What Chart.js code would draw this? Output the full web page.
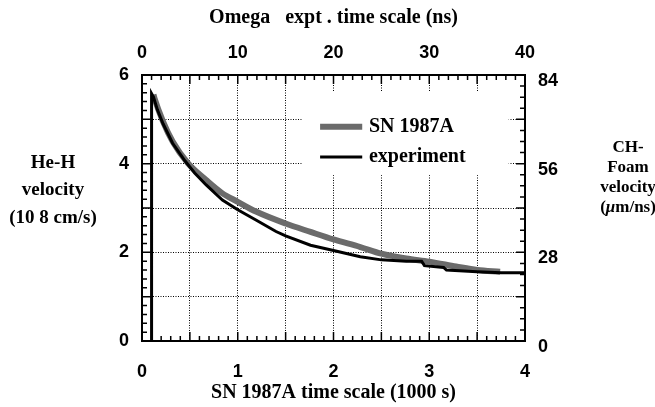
<!DOCTYPE html>
<html>
<head>
<meta charset="utf-8">
<script src="https://cdn.jsdelivr.net/npm/chart.js@4.4.1/dist/chart.umd.min.js"></script>
<style>
  html, body { margin: 0; padding: 0; background: #fff; }
</style>
</head>
<body>
<canvas id="chart" width="655" height="407"></canvas>
<script>
// experiment (black) - x in 1000 s, y in 10^8 cm/s
const expX = [0.10, 0.10, 0.12, 0.16, 0.22, 0.32, 0.45, 0.55, 0.67, 0.84, 1.00, 1.19, 1.40, 1.50, 1.76, 2.00, 2.28, 2.50, 2.76, 2.92, 2.95, 3.15, 3.18, 3.50, 3.75, 4.00];
const expY = [0.00, 5.58, 5.50, 5.22, 4.90, 4.46, 4.06, 3.79, 3.52, 3.18, 2.96, 2.73, 2.47, 2.37, 2.16, 2.04, 1.90, 1.83, 1.80, 1.80, 1.70, 1.66, 1.60, 1.56, 1.54, 1.54];

// SN 1987A (gray)
const snX = [0.12, 0.13, 0.22, 0.32, 0.48, 0.67, 0.84, 1.00, 1.19, 1.50, 1.76, 2.00, 2.28, 2.50, 2.76, 3.00, 3.28, 3.50, 3.74];
const snY = [5.56, 5.48, 4.95, 4.50, 4.01, 3.63, 3.33, 3.14, 2.92, 2.65, 2.46, 2.29, 2.12, 1.97, 1.86, 1.79, 1.68, 1.60, 1.56];

const bottomTicks = [0, 1, 2, 3, 4];
const topTicks = [0, 10, 20, 30, 40];
const leftTicks = [0, 2, 4, 6];
const rightTicks = [0, 28, 56, 84];
const xGrid = [0, 0.5, 1, 1.5, 2, 2.5, 3, 3.5, 4];
const yGrid = [0, 1, 2, 3, 4, 5, 6];

const topTitle = 'Omega   expt . time scale (ns)';
const bottomTitle = 'SN 1987A time scale (1000 s)';
const leftTitle = ['He-H', 'velocity', '(10 8 cm/s)'];
const rightTitle = ['CH-', 'Foam', 'velocity', '(μm/ns)'];

const SANS = '"Liberation Sans", Arial, sans-serif';
const SERIF = '"Liberation Serif", "Times New Roman", serif';

// ticks pointing into the plot, every scale
const innerTicks = {
    id: 'innerTicks',
    afterDatasetsDraw(chart) {
        const ctx = chart.ctx;
        const a = chart.chartArea;
        const s = chart.scales;
        ctx.save();
        ctx.strokeStyle = '#000';
        ctx.lineWidth = 1.5;
        ctx.beginPath();
        for (let i = 0; i <= 40; i++) {
            const len = i % 5 === 0 ? 9 : 5;
            const xb = s.x.getPixelForValue(i / 10);
            ctx.moveTo(xb, a.bottom); ctx.lineTo(xb, a.bottom - len);
            const xt = s.x2.getPixelForValue(i);
            ctx.moveTo(xt, a.top); ctx.lineTo(xt, a.top + len);
        }
        for (let i = 0; i <= 30; i++) {
            const len = i % 5 === 0 ? 9 : 5;
            const y = s.y.getPixelForValue(i / 5);
            ctx.moveTo(a.left, y); ctx.lineTo(a.left + len, y);
        }
        for (let i = 0; i <= 24; i++) {
            const len = i % 4 === 0 ? 9 : 5;
            const y = s.y2.getPixelForValue(i * 3.5);
            ctx.moveTo(a.right, y); ctx.lineTo(a.right - len, y);
        }
        ctx.stroke();
        ctx.restore();
    }
};

// legend sits inside the plot on a white box that hides the grid
const boxLegend = {
    id: 'boxLegend',
    beforeDatasetsDraw(chart) {
        const {x, y} = chart.scales;
        const ctx = chart.ctx;
        const x1 = x.getPixelForValue(1.67), x2 = x.getPixelForValue(3.83);
        const y1 = y.getPixelForValue(5.62), y2 = y.getPixelForValue(3.74);
        ctx.save();
        ctx.fillStyle = '#fff';
        ctx.fillRect(x1, y1, x2 - x1, y2 - y1);
        ctx.restore();
    },
    afterDatasetsDraw(chart) {
        const {x, y} = chart.scales;
        const ctx = chart.ctx;
        const rows = [chart.data.datasets[1], chart.data.datasets[0]];
        const rowY = [4.83, 4.15];
        ctx.save();
        ctx.font = 'bold 20px ' + SERIF;
        ctx.textBaseline = 'middle';
        ctx.fillStyle = '#000';
        rows.forEach((ds, i) => {
            const py = y.getPixelForValue(rowY[i]);
            ctx.strokeStyle = ds.borderColor;
            ctx.lineWidth = ds.borderWidth;
            ctx.beginPath();
            ctx.moveTo(x.getPixelForValue(1.86), py);
            ctx.lineTo(x.getPixelForValue(2.30), py);
            ctx.stroke();
            ctx.fillText(ds.label, x.getPixelForValue(2.37), py);
        });
        ctx.restore();
    }
};

// horizontal multi-line titles left and right of the plot
const sideTitles = {
    id: 'sideTitles',
    afterDraw(chart) {
        const ctx = chart.ctx;
        ctx.save();
        ctx.fillStyle = '#000';
        ctx.textBaseline = 'middle';
        ctx.textAlign = 'center';
        ctx.font = 'bold 19px ' + SERIF;
        leftTitle.forEach((t, i) => ctx.fillText(t, 53, 163 + i * 27.5));

        ctx.font = 'bold 17px ' + SERIF;
        const cx = 628;
        rightTitle.forEach((t, i) => {
            const ty = 148 + i * 20;
            if (t.includes('μ')) {
                const parts = [[t.slice(0, t.indexOf('μ')), false], ['μ', true], [t.slice(t.indexOf('μ') + 1), false]];
                const fontOf = it => (it ? 'italic ' : '') + 'bold 17px ' + SERIF;
                let w = 0;
                parts.forEach(p => { ctx.font = fontOf(p[1]); w += ctx.measureText(p[0]).width; });
                let px = cx - w / 2;
                ctx.textAlign = 'left';
                parts.forEach(p => {
                    ctx.font = fontOf(p[1]);
                    ctx.fillText(p[0], px, ty);
                    px += ctx.measureText(p[0]).width;
                });
                ctx.textAlign = 'center';
            } else {
                ctx.fillText(t, cx, ty);
            }
        });
        ctx.restore();
    }
};

const pts = (xs, ys) => xs.map((v, i) => ({x: v, y: ys[i]}));
const tickFont = {family: SANS, size: 18, weight: 'bold'};
const titleFont = {family: SERIF, size: 20, weight: 'bold'};
const gridStyle = {color: '#000', lineWidth: 1, drawTicks: false};
const borderStyle = {color: '#000', width: 2, dash: [1, 1.5]};

new Chart(document.getElementById('chart'), {
    type: 'line',
    data: {
        datasets: [{
            label: 'experiment',
            data: pts(expX, expY),
            borderColor: '#000',
            borderWidth: 3,
            pointRadius: 0,
            tension: 0
        }, {
            label: 'SN 1987A',
            data: pts(snX, snY),
            borderColor: '#6b6b6b',
            borderWidth: 6,
            pointRadius: 0,
            cubicInterpolationMode: 'monotone'
        }]
    },
    options: {
        responsive: false,
        animation: false,
        layout: { padding: 0 },
        plugins: {
            legend: { display: false },
            tooltip: { enabled: false }
        },
        scales: {
            x: {
                type: 'linear', position: 'bottom', min: 0, max: 4,
                afterBuildTicks: s => { s.ticks = xGrid.map(v => ({value: v})); },
                afterFit: s => { s.height = 66; },
                grid: gridStyle,
                border: borderStyle,
                ticks: {
                    color: '#000', font: tickFont, padding: 20, maxRotation: 0, autoSkip: false,
                    callback: v => bottomTicks.includes(v) ? String(v) : ''
                },
                title: { display: true, text: bottomTitle, color: '#000', font: titleFont, padding: {top: 0, bottom: 2} }
            },
            x2: {
                type: 'linear', position: 'top', min: 0, max: 40,
                afterBuildTicks: s => { s.ticks = topTicks.map(v => ({value: v})); },
                afterFit: s => { s.height = 75; },
                grid: { display: false, drawTicks: false },
                border: { color: '#000', width: 2 },
                ticks: { color: '#000', font: tickFont, padding: 11, maxRotation: 0, autoSkip: false },
                title: { display: true, text: topTitle, color: '#000', font: titleFont, padding: {top: 6, bottom: 0} }
            },
            y: {
                type: 'linear', position: 'left', min: 0, max: 6,
                afterBuildTicks: s => { s.ticks = yGrid.map(v => ({value: v})); },
                afterFit: s => { s.width = 142; },
                grid: gridStyle,
                border: borderStyle,
                ticks: {
                    color: '#000', font: tickFont, padding: 13, autoSkip: false,
                    callback: v => leftTicks.includes(v) ? String(v) : ''
                }
            },
            y2: {
                type: 'linear', position: 'right', min: 0, max: 84,
                afterBuildTicks: s => { s.ticks = rightTicks.map(v => ({value: v})); },
                afterFit: s => { s.width = 130; },
                grid: { display: false, drawTicks: false },
                border: { color: '#000', width: 2 },
                ticks: { color: '#000', font: tickFont, padding: 13, labelOffset: 6, autoSkip: false }
            }
        }
    },
    plugins: [boxLegend, innerTicks, sideTitles]
});
</script>
</body>
</html>
